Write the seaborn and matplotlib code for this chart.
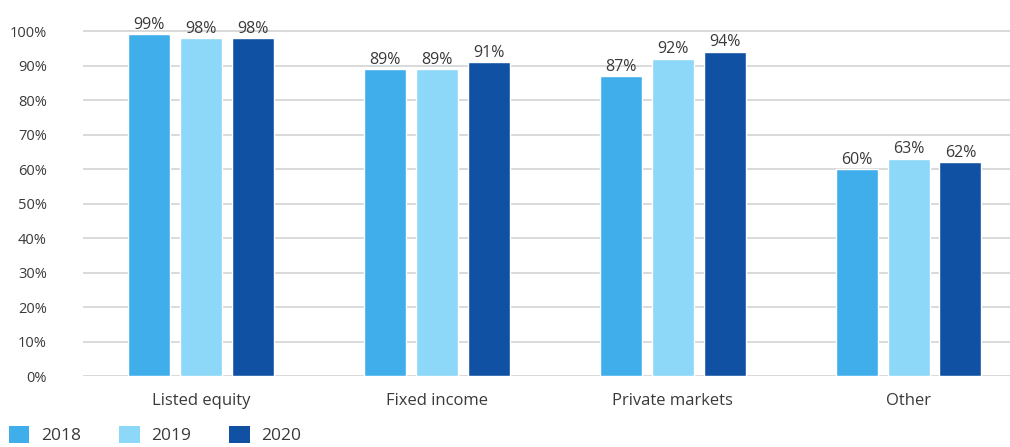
import matplotlib
matplotlib.use("Agg")
import matplotlib.pyplot as plt
import seaborn as sns
import pandas as pd

categories = ["Listed equity", "Fixed income", "Private markets", "Other"]
years = ["2018", "2019", "2020"]
values_2018 = [99, 89, 87, 60]
values_2019 = [98, 89, 92, 63]
values_2020 = [98, 91, 94, 62]
ytick_values = [0, 10, 20, 30, 40, 50, 60, 70, 80, 90, 100]

colors = ["#41AEEC", "#8DD7F8", "#1151A3"]
text_color = "#3a3a3a"

rows = []
for year, vals in zip(years, [values_2018, values_2019, values_2020]):
    for cat, v in zip(categories, vals):
        rows.append({"category": cat, "year": year, "value": v})
df = pd.DataFrame(rows)

sns.set_theme(style="white")
plt.rcParams["font.family"] = ["Open Sans", "DejaVu Sans"]

fig = plt.figure(figsize=(10.10, 4.47), dpi=100)
ax = fig.add_axes([83 / 1010, 1 - 376 / 447, 1 - 83 / 1010, 376 / 447])

sns.barplot(data=df, x="category", y="value", hue="year", order=categories,
            hue_order=years, palette=colors, width=0.66, gap=0.19,
            saturation=1, ax=ax, legend=False, zorder=3)

for container in ax.containers:
    ax.bar_label(container, fmt="%d%%", padding=1, fontsize=11.5,
                 color=text_color)

ax.set_ylim(0, 109)
ax.set_xlim(-0.5, 3.43)
ax.set_yticks(ytick_values)
ax.set_yticklabels([f"{v}%" for v in ytick_values], fontsize=10.5,
                   color=text_color)
ax.tick_params(axis="x", labelsize=12, labelcolor=text_color, pad=12,
               length=0)
ax.tick_params(axis="y", length=0, pad=26)
ax.set_xlabel("")
ax.set_ylabel("")
for side in ["top", "right", "left", "bottom"]:
    ax.spines[side].set_visible(False)
ax.yaxis.grid(True, color="#d9d9d9", linewidth=1.4, zorder=0)
ax.set_axisbelow(True)

handles = [plt.Rectangle((0, 0), 1, 1, facecolor=c, edgecolor="none")
           for c in colors]
fig.legend(handles, years, loc="lower left", bbox_to_anchor=(0.006, 0.0),
           ncol=3, frameon=False, fontsize=12.5, handlelength=1.2,
           handleheight=1.1, columnspacing=2.2, handletextpad=0.65,
           borderpad=0.0, borderaxespad=0.15, labelcolor=text_color)

fig.savefig("out.png", dpi=100)
